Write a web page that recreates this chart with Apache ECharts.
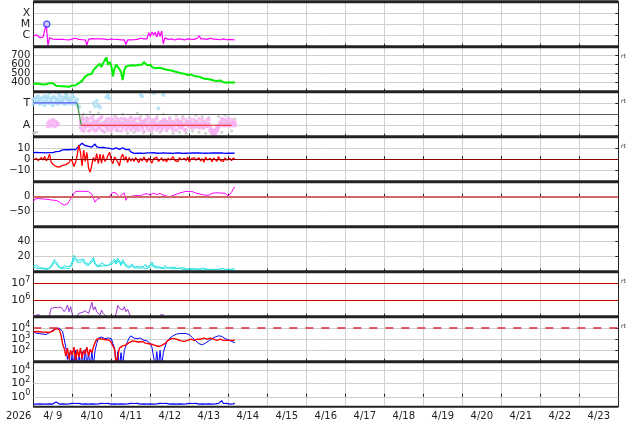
<!DOCTYPE html>
<html><head><meta charset="utf-8">
<script src="https://cdn.jsdelivr.net/npm/echarts@6/dist/echarts.min.js"></script>
<style>html,body{margin:0;padding:0;background:#fff}#c{width:634px;height:424px}</style>
</head><body><div id="c"></div>
<script>
// ---------- axis / tick labels ----------
const yearLabel = '2026';
const dayLabels = ['4/ 9','4/10','4/11','4/12','4/13','4/14','4/15','4/16','4/17','4/18','4/19','4/20','4/21','4/22','4/23'];
const xrayTickValues = [-6, -5, -4];
const xrayTickLabels = ['C', 'M', 'X'];
const sectorTickValues = [1, 3];
const sectorTickLabels = ['A', 'T'];
const panel9TickValues = [0, 2, 4];
const rtLabel = 'rt';

// ---------- data (hourly samples from 4/9 00:00, log10 where noted) ----------
const xray = [ // log10 W/m2
 -6.05,-6.15,-5.95,-6.10,-6.20,-6.05,-6.15,-6.10,
 -5.00,-6.90,-6.20,
 -6.30,-6.32,-6.30,-6.35,-6.33,-6.35,-6.38,-6.35,-6.40,-6.38,
 -6.38,-6.40,-6.35,-6.30,-6.28,-6.25,-6.30,-6.35,-6.32,-6.38,-6.35,-6.40,
 -6.85,-6.35,
 -6.30,-6.28,-6.32,-6.30,-6.35,-6.30,-6.25,-6.30,-6.35,-6.32,-6.30,-6.38,-6.35,-6.30,-6.33,-6.36,-6.30,-6.35,-6.38,-6.40,-6.35,-6.38,
 -6.80,-6.40,
 -6.38,-6.40,-6.35,-6.38,-6.30,-6.35,-6.30,-6.25,-6.32,-6.30,-6.28,-6.30,
 -5.75,-6.10,-5.70,-5.95,-5.72,-6.15,-5.62,-6.10,-5.60,-6.75,-6.20,-6.30,
 -6.35,-6.38,-6.30,-6.35,-6.40,-6.33,-6.30,-6.35,-6.32,-6.38,-6.40,-6.35,-6.30,-6.35,-6.33,-6.38,-6.35,-6.30,
 -6.25,-6.00,-6.30,
 -6.35,-6.30,-6.38,-6.35,-6.30,-6.25,-6.35,-6.33,-6.38,-6.35,-6.40,-6.38,-6.35,-6.30,-6.35,-6.38,-6.40,-6.35,-6.33,-6.38,-6.40
];
const flareMarks = [[8.3, -5.0]];
const speed = [
 385,380,390,378,385,375,380,388,382,390,395,
 410,395,375,
 365,358,362,355,360,352,358,362,355,365,370,
 375,372,385,395,410,420,
 440,470,460,490,510,500,540,555,
 580,560,610,575,620,600,680,
 600,630,590,470,560,600,580,
 550,520,430,540,580,560,590,600,
 595,605,590,610,600,615,600,630,610,595,
 590,600,575,580,560,570,565,555,560,545,550,540,
 540,530,535,520,525,510,515,500,505,495,500,490,485,
 480,490,470,475,465,470,455,460,450,445,455,440,450,435,440,
 425,430,420,415,425,410,405,415,400,395,405,390,400,410
];
const towardA = [3.3,3.0,3.5,3.2,2.9,3.4,3.1,3.6,3.2,3.0,3.4,3.3,2.8,3.5,3.1,3.3,3.7,3.0,3.2,3.5,2.9,3.3,3.1,3.4,3.6,3.0,3.2,2.8,2.6];
const towardB = [2.9,3.4,3.1,3.6,3.3,3.0,3.5,2.8,3.4,3.6,3.0,3.2,3.5,3.0,3.4,2.9,3.2,3.5,3.1,2.9,3.4,3.6,3.0,3.2,2.9,3.5,3.0,3.3,2.7];
const towardExtra = [[10,3.9],[14,3.95],[20,3.85],[24,3.9],[37,3.0],[38,2.7],[39,3.2],[40,2.8],[41,2.6],[45,3.5],[46,3.7],[47,3.4],[66,3.7],[67,3.6],[74,3.9],[77,2.5],[80,3.7]];
const awayEarlyA = [1.2,1.0,1.3,1.1,1.4,1.0,1.2];
const awayEarlyB = [0.9,1.4,1.0,1.5,0.9,1.3,1.1];
const awayA = [
 1.4,0.6,1.6,0.8,1.5,0.5,1.2,1.7,0.7,1.3,
 0.6,1.5,1.0,1.7,0.5,1.3,0.8,1.6,1.1,0.6,
 1.5,1.0,1.7,0.8,1.3,0.5,1.1,1.6,0.6,1.3,
 1.0,1.7,0.8,1.5,0.6,1.1,1.6,1.0,1.3,0.5,
 1.5,0.8,1.7,1.1,0.6,1.3,1.0,1.6,0.8,1.3,
 0.6,1.5,1.0,1.1,0.8,1.6,1.3,0.6,1.1,1.5,
 1.0,1.3,0.8,1.6,1.1,0.6,1.3,1.0,1.5,1.1,
 0.8,1.3,1.0,1.6,1.1,0.8,1.3,1.0,1.5,1.1,
 0.6,0.4,0.3,0.4,0.6,1.0,1.3,1.6,1.5,1.1,
 1.3,1.6,1.1,1.5,1.3,1.0
];
const awayB = [
 0.8,1.5,0.5,1.1,1.0,1.6,0.6,1.0,1.5,0.5,
 1.3,0.8,1.6,0.6,1.1,1.0,1.5,0.6,1.0,1.6,
 0.8,1.3,0.6,1.5,1.0,1.6,0.8,1.0,1.5,0.8,
 1.5,0.6,1.3,1.0,1.6,0.8,0.6,1.5,0.8,1.3,
 1.0,1.5,0.6,1.0,1.5,0.8,1.5,0.6,1.1,1.0,
 1.3,0.8,1.5,0.6,1.3,1.0,0.8,1.3,1.0,0.6,
 1.5,0.8,1.3,1.0,0.6,1.5,1.0,1.3,0.8,1.0,
 1.5,1.0,1.3,0.8,1.0,1.5,0.8,1.1,1.0,1.5,
 0.5,0.3,0.4,0.2,0.5,0.8,1.0,1.1,1.0,1.5,
 1.0,1.3,1.0,1.1,1.0,1.3
];
const awayC = [
 1.1,1.0,1.2,0.9,1.3,1.0,0.9,1.2,1.1,1.0,
 1.2,1.1,0.9,1.2,1.0,1.1,1.2,0.9,1.3,1.0,
 1.1,0.9,1.2,1.1,1.0,1.2,0.9,1.3,1.1,1.0,
 1.2,1.0,1.1,0.9,1.2,1.1,1.0,1.2,0.9,1.1,
 1.2,1.0,1.1,1.3,0.9,1.1,1.2,1.0,1.1,0.9,
 1.1,1.2,0.9,1.3,1.0,1.1,1.2,0.9,1.1,1.2,
 1.1,1.0,1.2,0.9,1.1,1.2,1.0,1.1,1.2,0.9,
 1.1,1.2,0.9,1.1,1.2,1.0,1.1,1.2,0.9,1.1,
 0.8,0.6,0.5,0.6,0.8,1.0,1.1,1.2,1.1,1.0,
 1.1,1.2,1.0,1.1,1.2,1.1
];
const grayPts = [[0,0.3],[1,0.35],[2,0.4],[30,1.8],[31,2.0],[33,1.7],[35,2.2],[37,1.9],[40,2.1],[42,1.8],[44,0.4],[48,0.3],[50,1.9],[52,0.5],[55,2.0],[58,0.3],[60,1.7],[62,0.4],[64,2.1],[66,1.8],[68,0.35],[70,1.9],[72,3.95],[73,0.3],[75,3.9],[76,1.8],[78,0.4],[80,2.0],[82,0.5],[84,1.7],[86,0.3],[88,1.9],[90,0.4],[92,1.8],[94,0.3],[96,1.7],[98,0.5],[100,1.9],[102,0.4],[104,1.8],[106,0.3],[108,1.7],[110,0.2],[112,0.3],[114,1.8],[116,0.4],[118,1.9],[120,1.7],[122,0.5],[124,1.6]];
const sectorToward = [[0,3],[27,3]];
const sectorSwitch = [[27,3],[29.5,1]];
const sectorAway = [[29.5,1],[122,1]];
const bt = [
 5.8,5.6,6.0,5.7,5.9,5.5,5.8,6.0,5.7,5.6,5.9,6.1,5.8,6.2,
 6.7,6.5,7.0,
 7.5,8.2,7.8,8.6,9.0,8.4,8.0,8.8,8.2,8.5,
 9.5,11.5,13.0,14.2,13.5,12.0,
 13.0,11.5,12.5,10.8,12.0,13.5,11.0,10.5,
 10.2,9.8,10.5,9.5,10.0,10.8,9.6,10.2,9.0,9.5,10.0,9.2,8.8,9.5,10.2,9.0,8.5,9.2,8.8,
 6.5,5.5,5.2,5.6,5.3,5.8,5.4,5.6,5.2,5.5,5.7,5.3,5.6,5.4,5.8,5.5,5.3,5.6,5.4,5.7,
 5.5,5.2,5.4,5.6,5.3,5.5,5.2,5.4,5.6,5.3,5.5,5.4,5.2,5.5,5.3,5.6,5.4,5.2,5.5,5.3,
 5.6,5.4,5.5,5.2,5.4,5.6,5.3,5.5,5.4,5.2,5.5,5.3,5.6,5.4,5.5,5.3,5.6,5.4,5.2,5.5,
 5.4,5.6,5.3,5.5,5.4
];
const bz = [
 -0.5,-1.8,0.8,-1.2,-2.0,1.5,-0.8,2.5,-1.5,0.5,4.5,
 -2.5,-4.5,-5.8,-6.5,-5.0,-7.0,-6.2,-5.5,-6.8,-4.8,-5.5,-3.0,
 0.0,-2.0,-6.5,-3.0,3.5,
 12.5,6.0,-6.0,8.0,-2.0,6.0,-8.0,-11.5,-10.0,1.5,-2.0,5.0,-4.0,
 4.5,-3.5,4.0,-2.0,0.0,3.5,6.0,-1.0,-4.0,2.0,3.0,-2.5,-6.0,1.5,4.5,-1.0,2.5,-3.0,1.5,
 -1.5,0.5,-2.0,1.5,-0.8,-3.0,0.8,-1.5,2.0,-0.5,-2.5,1.0,-1.0,-3.5,0.5,-1.2,1.8,-2.0,-0.5,1.2,
 -1.8,0.3,-2.5,1.0,-0.8,-1.5,2.2,-1.0,0.5,-2.2,1.5,-0.5,-1.8,0.8,-1.2,2.0,-2.5,0.2,-1.0,1.5,
 -0.8,-2.0,1.2,-1.5,0.5,-2.8,1.8,-0.6,-1.5,0.8,-2.2,1.0,-0.5,-1.8,2.5,-1.0,0.3,-2.0,1.2,-0.8,
 -1.5,0.8,-1.2,1.0,0.5
];
const dst = [
 -17,-8,-5,-6,-8,-7,-6,-8,-10,-9,
 -10,-11,-10,-12,-11,-14,-18,-22,-26,-28,
 -27,-24,-15,-8,0,10,17,18,18,17,
 18,19,18,16,17,14,8,-5,-18,-10,
 -6,-4,-2,0,1,0,1,2,8,15,
 14,12,12,-3,5,10,12,-12,-2,0,
 1,2,3,2,4,5,3,4,8,12,
 10,8,6,9,12,10,7,9,11,8,
 5,3,2,1,0,2,4,6,8,10,
 12,13,15,17,18,18,17,16,17,15,
 12,11,10,8,7,6,5,4,5,8,
 11,12,13,14,13,14,12,13,11,6,
 2,5,15,25,33
];
const cyanA = [
 8,6,9,7,5,4,5,6,4,5,5,6,
 12,16,15,10,
 6,7,5,8,6,7,5,8,
 14,22,23,15,14,16,
 18,17,12,11,10,13,
 16,19,12,9,10,8,12,11,9,10,8,11,
 9,14,17,12,18,15,10,16,14,9,
 8,7,9,10,6,8,7,9,6,8,7,10,6,8,
 9,13,8,6,7,5,6,7,5,8,6,5,7,6,5,6,5,4,6,5,
 4,5,4,3,5,4,3,4,5,3,4,4,3,5,4,3,4,3,4,3,4,3,3,4,3,4,3,3,4,3,3,4,3
];
const cyanB = [
 6,7,5,6,4,3,4,5,3,4,4,5,
 9,13,14,8,
 5,6,4,6,5,6,4,6,
 10,18,20,13,11,12,
 15,14,10,9,8,10,
 13,16,10,7,8,7,9,8,7,8,6,9,
 7,11,14,10,15,12,8,13,11,7,
 6,5,7,8,5,6,5,7,5,6,5,7,4,6,
 7,10,6,5,5,4,5,5,4,6,5,4,5,5,4,5,4,3,5,4,
 3,4,3,3,4,3,2,3,4,2,3,3,2,4,3,2,3,2,3,2,3,2,2,3,2,3,2,2,3,2,2,3,2
];
const purple = [ // log10
 5.10,4.80,5.12,5.14,5.10,4.80,4.80,4.80,5.05,4.80,
 5.10,5.50,5.60,5.55,5.62,5.55,5.50,5.58,5.45,5.30,
 5.45,5.70,5.30,5.60,5.15,4.80,4.90,5.05,5.20,5.30,
 5.25,5.20,5.35,5.45,5.20,5.50,5.87,5.40,5.60,5.30,
 5.35,5.10,5.40,5.20,5.30,5.00,4.80,4.80,4.80,4.80,
 4.90,5.20,5.67,5.50,5.45,5.40,5.60,5.30,5.45,5.20,
 5.10,4.80,4.80,4.80,4.80,4.80,4.80,4.80,4.80,4.80,
 4.80,4.80,4.80,4.80,4.80,4.80,4.80,4.80,5.10,5.15,
 5.12,4.80,4.80,4.80,4.80,4.80,4.80,4.80,4.80,4.80,
 4.80,4.80,4.80,4.80,4.80,4.80,4.80,4.80,5.05,4.80,
 4.80,4.80,4.80,4.80,4.80,4.80,4.80,4.80,4.80,4.80,
 4.80,4.80,4.80,4.80,4.80,4.80,4.80,4.80,5.10,4.80,
 4.80,4.80,4.80,4.80,4.80
];
const fluxBlue = [ // log10
 3.67,3.60,3.52,3.45,3.50,
 3.40,3.45,3.38,3.42,3.50,
 3.60,3.70,3.80,3.88,
 3.97,4.00,3.98,3.95,
 3.70,3.00,2.30,1.20,
 1.8,0.5,1.9,0.6,2.0,0.5,1.7,0.6,1.9,0.5,2.1,0.6,1.8,0.5,1.9,0.7,2.0,
 2.6,3.1,3.25,
 3.2,3.1,3.05,3.15,3.1,3.0,3.05,
 2.6,2.2,
 0.6,1.9,0.5,1.8,0.6,2.0,
 2.4,2.8,3.1,3.3,
 3.2,3.1,3.0,3.05,2.95,3.1,3.0,2.9,2.95,2.85,2.8,
 2.6,2.3,2.2,
 0.6,1.9,0.5,2.0,0.6,1.8,
 2.3,2.7,2.9,3.1,3.2,3.3,
 3.4,3.45,3.4,3.5,3.45,3.5,3.55,3.5,3.45,3.4,
 3.3,3.15,3.0,2.85,2.7,2.6,2.5,2.5,2.55,
 2.65,2.75,2.85,2.95,3.05,3.1,3.2,3.25,3.3,3.3,3.25,
 3.15,3.05,3.0,2.95,2.85,2.8,2.75,2.7
];
const fluxRed = [ // log10
 3.65,3.62,3.68,3.64,3.66,3.6,3.63,3.67,3.62,3.65,3.6,3.68,3.72,3.8,
 3.95,3.97,3.85,
 3.4,2.6,2.2,
 1.5,2.2,1.2,2.0,1.6,2.3,1.1,2.1,1.4,2.2,1.3,2.0,1.7,2.3,1.5,2.1,1.8,2.3,
 2.7,3.0,3.1,
 3.05,3.1,3.0,3.05,2.95,3.0,2.9,
 2.7,2.4,2.1,
 0.8,1.5,
 2.2,2.3,2.4,2.35,2.5,
 2.6,2.7,2.8,2.85,
 2.9,2.8,2.85,2.75,2.7,2.8,2.7,2.65,2.7,2.6,2.65,2.55,2.5,
 2.45,2.4,2.35,2.4,2.45,2.5,
 2.6,2.75,2.9,3.0,3.05,3.1,
 3.05,3.0,2.95,2.9,2.85,2.8,2.8,2.85,2.9,2.95,3.0,2.95,2.9,2.95,3.0,3.05,3.0,3.05,3.1,3.05,3.0,3.05,3.1,3.05,3.0,2.95,2.9,2.95,3.0,2.95,2.9,2.95,2.9,2.85,2.9,2.95,2.9,2.9
];
const lowBlue = [ // log10
 -1.10,-1.00,-1.12,-1.02,-1.08,-1.00,-1.10,-1.04,-1.12,-1.00,-1.08,-1.02,-1.10,-0.98,-0.80,-1.05,-1.10,-1.00,-1.08,-1.02,
 -1.10,-1.00,-1.06,-1.12,-1.00,-1.08,-1.02,-1.10,-1.00,-1.06,-1.10,-1.02,-1.08,-1.00,-1.12,-1.04,-1.08,-1.00,-1.10,-1.02,
 -1.06,-1.12,-1.00,-1.08,-1.02,-1.10,-1.00,-1.06,-1.10,-1.02,-1.08,-1.00,-1.12,-1.04,-1.08,-1.00,-1.10,-1.02,-1.06,-1.12,
 -1.00,-1.08,-1.02,-1.10,-1.00,-1.06,-1.10,-1.02,-1.08,-1.00,-1.12,-1.04,-1.08,-1.00,-1.10,-1.02,-1.06,-1.12,-1.00,-1.08,
 -1.02,-1.10,-1.00,-1.06,-1.10,-1.02,-1.08,-1.00,-1.12,-1.04,-1.08,-1.00,-1.10,-1.02,-1.06,-1.12,-1.00,-1.08,-1.02,-1.10,
 -1.00,-1.06,-1.10,-1.02,-1.08,-1.00,-1.12,-1.04,-1.08,-1.00,-1.10,-1.02,-1.06,-1.12,-1.00,-1.08,-0.60,-1.02,-1.10,-1.00,
 -1.06,-1.10,-1.02,-1.08,-1.00
];
const sectorMid = [2];
const bzZero = [0];
const dstZero = [0];
const panel7Refs = [6, 7];
const panel8Ref = [4];

// ---------- layout ----------
const STEP = 1;
const LEFT = 33.3, RIGHT = 634 - 618.3, TOP0 = 1.7, PH = 45, NP = 9;
const FONT = 'DejaVu Sans';
const TXT = '#222';
const GRIDC = '#d0d0d0';

function hourly(arr, start) { return arr.map((v, i) => [start + i * STEP, v]); }
function minus(v) { v = Math.round(v); return v < 0 ? '\u2212' + (-v) : String(v); }
function pow10(v) { return '{b|10}{s|' + Math.round(v) + '}'; }
const richPow = { b: { fontSize: 11, fontFamily: FONT, color: TXT }, s: { fontSize: 8, fontFamily: FONT, color: TXT, padding: [0, 0, 7, 0] } };

const yCfg = [
  { min: -7, max: -3, interval: 1, fs: 11, fmt: v => { const k = xrayTickValues.indexOf(Math.round(v)); return k >= 0 ? xrayTickLabels[k] : ''; } },
  { min: 300, max: 800, interval: 100, fs: 10, fmt: v => (v > 300 && v < 800) ? String(Math.round(v)) : '' },
  { min: 0, max: 4, interval: 1, fs: 11, fmt: v => { const k = sectorTickValues.indexOf(Math.round(v)); return k >= 0 ? sectorTickLabels[k] : ''; } },
  { min: -20, max: 20, interval: 10, fs: 10, fmt: v => (Math.abs(v) < 20) ? minus(v) : '' },
  { min: -100, max: 50, interval: 50, fs: 10, fmt: v => (v > -100 && v < 50) ? minus(v) : '' },
  { min: 0, max: 60, interval: 20, fs: 10, fmt: v => (v > 0 && v < 60) ? String(Math.round(v)) : '' },
  { min: 5, max: 7.7, interval: 1, fs: 10, fmt: v => (v > 5.5 && v < 7.5) ? pow10(v) : '', rich: true },
  { min: 1, max: 5, interval: 1, fs: 10, fmt: v => (v > 1.5 && v < 4.5) ? pow10(v) : '', rich: true },
  { min: -1.5, max: 5.3, custom: panel9TickValues, fs: 10, fmt: v => pow10(v), rich: true }
];

const grids = [], xAxes = [], yAxes = [];
for (let i = 0; i < NP; i++) {
  grids.push({ left: LEFT, right: RIGHT, top: TOP0 + PH * i, height: PH });
  xAxes.push({ type: 'value', gridIndex: i, min: 0, max: 360, interval: 24,
    axisLine: { show: false }, axisLabel: { show: false },
    axisTick: { show: true, inside: true, length: 3, lineStyle: { color: TXT } },
    splitLine: { show: true, lineStyle: { color: GRIDC, width: 1 } } });
}
xAxes.push({ type: 'category', gridIndex: NP - 1, position: 'bottom', data: dayLabels, boundaryGap: true,
  axisLine: { show: false }, axisTick: { show: false }, splitLine: { show: false },
  axisLabel: { interval: 0, margin: 5, fontSize: 10, fontFamily: FONT, color: TXT } });
yCfg.forEach((c, i) => {
  const ax = { type: 'value', gridIndex: i, min: c.min, max: c.max, position: 'left',
    axisLine: { show: true, lineStyle: { color: TXT, width: 1 } },
    axisTick: { show: false },
    axisLabel: { show: true, margin: 3, fontSize: c.fs, fontFamily: FONT, color: TXT, formatter: c.fmt, showMinLabel: true, showMaxLabel: true },
    splitLine: { show: true, lineStyle: { color: GRIDC, width: 1 } } };
  if (c.interval) ax.interval = c.interval;
  if (c.rich) ax.axisLabel.rich = richPow;
  if (c.custom) { ax.axisLabel.customValues = c.custom; ax.axisTick = { show: false, customValues: c.custom }; ax.splitLine = { show: false }; }
  yAxes.push(ax);
});
yCfg.forEach((c, i) => {
  const ax = { type: 'value', gridIndex: i, min: c.min, max: c.max, position: 'right',
    axisLine: { show: true, lineStyle: { color: TXT, width: 1 } },
    axisTick: { show: true, inside: true, length: 3, lineStyle: { color: TXT } },
    axisLabel: { show: false }, splitLine: { show: false } };
  if (c.interval) ax.interval = c.interval;
  if (c.custom) ax.axisTick.customValues = c.custom;
  yAxes.push(ax);
});

function line(i, data, color, width, extra) {
  return Object.assign({ type: 'line', xAxisIndex: i, yAxisIndex: i, data: data, showSymbol: false, symbol: 'none',
    lineStyle: { color: color, width: width }, itemStyle: { color: color }, silent: true, animation: false, clip: true, z: 3 }, extra || {});
}
function scat(i, data, color, size, extra) {
  return Object.assign({ type: 'scatter', xAxisIndex: i, yAxisIndex: i, data: data, symbol: 'circle', symbolSize: size,
    itemStyle: { color: color }, silent: true, animation: false, clip: true, z: 2 }, extra || {});
}
function mline(vals, color, width, type) {
  return { silent: true, symbol: 'none', animation: false, label: { show: false },
    lineStyle: { color: color, width: width, type: type || 'solid' }, data: vals.map(v => ({ yAxis: v })) };
}

const PINK = '#f6b0f2', LBLUE = '#a8ddf5';
const series = [
  line(0, hourly(xray, 0), '#ff00ff', 1.2),
  scat(0, flareMarks, '#c8c8ff', 6, { itemStyle: { color: '#c8c8ff', borderColor: '#2020ff', borderWidth: 1.2 }, z: 4 }),
  line(1, hourly(speed, 0), '#00ee00', 2),
  scat(2, grayPts, '#c4c4c4', 3, { z: 1 }),
  scat(2, hourly(awayC, 29), PINK, 4),
  scat(2, hourly(awayA, 29), PINK, 4),
  scat(2, hourly(awayB, 29), PINK, 4),
  scat(2, hourly(awayEarlyA, 9), PINK, 4),
  scat(2, hourly(awayEarlyB, 9), PINK, 4),
  scat(2, hourly(towardA, 0), LBLUE, 4),
  scat(2, hourly(towardB, 0), LBLUE, 4),
  scat(2, towardExtra, LBLUE, 4),
  line(2, sectorToward, '#5a5aff', 1.2, { markLine: mline(sectorMid, '#555', 1) }),
  line(2, sectorSwitch, '#3a9a3a', 1.2),
  line(2, sectorAway, '#ee4444', 1.2),
  line(3, hourly(bt, 0), '#0000ff', 1.3, { markLine: mline(bzZero, '#8b0000', 1) }),
  line(3, hourly(bz, 0), '#ff0000', 1.3),
  line(4, hourly(dst, 0), '#ff00ff', 1, { markLine: mline(dstZero, '#d06868', 2) }),
  line(5, hourly(cyanA, 0), '#1ee0e0', 1),
  line(5, hourly(cyanB, 0), '#1ee0e0', 1),
  line(6, hourly(purple, 0), '#9a32d0', 1, { markLine: mline(panel7Refs, '#cc0000', 1) }),
  line(7, hourly(fluxBlue, 0), '#0000ff', 1, { markLine: mline(panel8Ref, '#e02828', 1.5, [8, 8]) }),
  line(7, hourly(fluxRed, 0), '#ff0000', 1.4),
  line(8, hourly(lowBlue, 0), '#0000ff', 1.2, { markLine: mline(panel9TickValues, GRIDC, 1) })
];

// frame lines, year label, "rt" tags
const graphics = [];
for (let i = 0; i <= NP; i++) {
  const y = TOP0 + PH * i;
  graphics.push({ type: 'line', z: 100, silent: true,
    shape: { x1: LEFT, y1: y, x2: 634 - RIGHT, y2: y },
    style: { stroke: '#222', lineWidth: i === NP ? 2 : 3 } });
}
graphics.push({ type: 'text', z: 100, silent: true, style: { text: yearLabel, x: 6, y: 416.5, font: '10px "DejaVu Sans"', fill: TXT, textVerticalAlign: 'middle' } });
[1, 2, 3, 6, 7].forEach(i => {
  graphics.push({ type: 'text', z: 100, silent: true, style: { text: rtLabel, x: 621, y: TOP0 + PH * i + 10, font: '6px "DejaVu Sans"', fill: '#333', textVerticalAlign: 'middle' } });
});

const chart = echarts.init(document.getElementById('c'), null, { renderer: 'canvas' });
chart.setOption({
  animation: false,
  backgroundColor: '#fff',
  grid: grids, xAxis: xAxes, yAxis: yAxes, series: series,
  graphic: { elements: graphics }
});
</script>
</body></html>
